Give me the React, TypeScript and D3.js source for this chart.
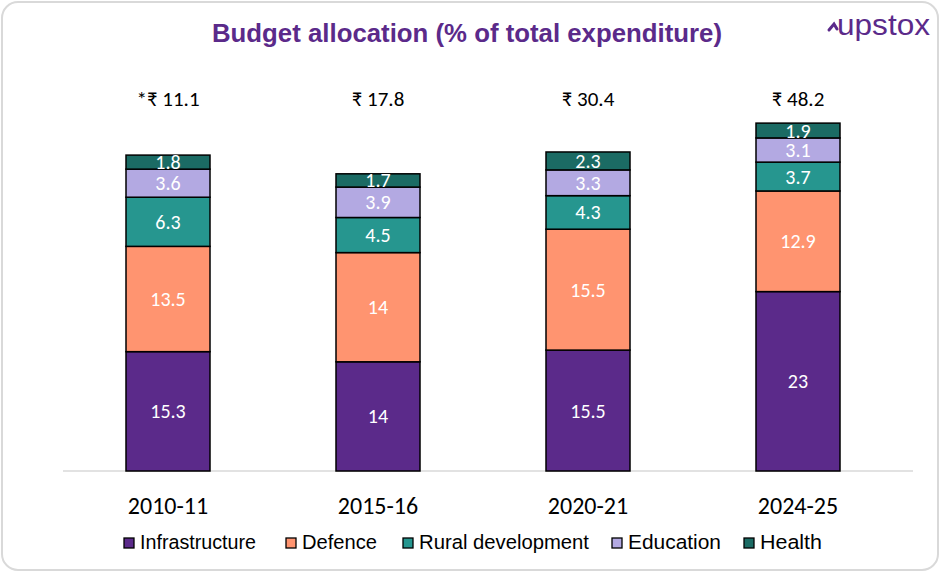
import React from "react";
import * as d3 from "d3";

const categories = ["2010-11", "2015-16", "2020-21", "2024-25"];
const totals = ["*₹ 11.1", "₹ 17.8", "₹ 30.4", "₹ 48.2"];
const seriesNames = ["Infrastructure", "Defence", "Rural development", "Education", "Health"];
const infrastructure = [15.3, 14, 15.5, 23];
const defence = [13.5, 14, 15.5, 12.9];
const rural = [6.3, 4.5, 4.3, 3.7];
const education = [3.6, 3.9, 3.3, 3.1];
const health = [1.8, 1.7, 2.3, 1.9];
const colors = ["#5B2A8A", "#FF9470", "#26968F", "#B3A9E2", "#1B6B64"];

const W = 940;
const H = 572;

export default function App() {
  const series = [infrastructure, defence, rural, education, health];
  const rows = categories.map((c, i) => {
    const r: any = { cat: c };
    seriesNames.forEach((s, j) => (r[s] = series[j][i]));
    return r;
  });
  const stack = d3.stack<any>().keys(seriesNames)(rows);
  const x = d3.scaleBand().domain(categories).range([63, 903]).paddingInner(0.6).paddingOuter(0.3);
  const y = d3.scaleLinear().domain([0, 50]).range([471, 471 - 7.8 * 50]);
  const font = "Carlito, Calibri, Lato, sans-serif";
  const legendSq = [124, 286, 403, 612, 744];
  const legendW = [116, 75, 170, 93, 62];
  return (
    <div style={{ position: "fixed", left: 0, top: 0 }}>
      <svg width={W} height={H} style={{ display: "block" }}>
        <rect x={0} y={0} width={W} height={H} fill="#fff" />
        <rect x={2} y={2} width={W - 4} height={H - 4} rx={16} fill="#fff" stroke="#D9D9D9" strokeWidth={2} />
        <text x={467} y={42} textAnchor="middle" fill="#5B2A8A" fontFamily="Liberation Sans, Arial, sans-serif" fontWeight="bold" fontSize={25.5} textLength={510} lengthAdjust="spacingAndGlyphs">
          Budget allocation (% of total expenditure)
        </text>
        <g fill="#5B2A8A">
          <path d="M829,30 L834,24 L837,29" stroke="#5B2A8A" strokeWidth={3} fill="none" strokeLinecap="round" />
          <text x={837} y={35} fontFamily="Liberation Sans, Arial, sans-serif" fontSize={30} fill="#5B2A8A" textLength={93} lengthAdjust="spacingAndGlyphs">
            upstox
          </text>
        </g>
        <line x1={63} x2={913} y1={471} y2={471} stroke="#D9D9D9" strokeWidth={1.5} />
        {stack.map((layer, j) => (
          <g key={seriesNames[j]}>
            {layer.map((d, i) => (
              <g key={i}>
                <rect
                  x={x(categories[i])!}
                  width={x.bandwidth()}
                  y={y(d[1])}
                  height={y(d[0]) - y(d[1])}
                  fill={colors[j]}
                  stroke="#000"
                  strokeWidth={1.5}
                />
                <text
                  x={x(categories[i])! + x.bandwidth() / 2}
                  y={(y(d[0]) + y(d[1])) / 2}
                  dy="0.35em"
                  textAnchor="middle"
                  fill="#fff"
                  fontFamily={font}
                  fontSize={20}
                >
                  {series[j][i]}
                </text>
              </g>
            ))}
          </g>
        ))}
        {categories.map((c, i) => (
          <g key={c}>
            <text x={x(c)! + x.bandwidth() / 2} y={99} dy="0.35em" textAnchor="middle" fontFamily={font} fontSize={21} fill="#000">
              {totals[i]}
            </text>
            <text x={x(c)! + x.bandwidth() / 2} y={506} dy="0.35em" textAnchor="middle" fontFamily={font} fontSize={24} fill="#000">
              {c}
            </text>
          </g>
        ))}
        {seriesNames.map((s, j) => (
          <g key={s}>
            <rect x={legendSq[j]} y={538} width={10} height={10} fill={colors[j]} stroke="#000" strokeWidth={1.3} />
            <text
              x={legendSq[j] + 16}
              y={549}
              fontFamily="Liberation Sans, Arial, sans-serif"
              fontSize={20.5}
              fill="#000"
              textLength={legendW[j]}
              lengthAdjust="spacingAndGlyphs"
            >
              {s}
            </text>
          </g>
        ))}
      </svg>
    </div>
  );
}
